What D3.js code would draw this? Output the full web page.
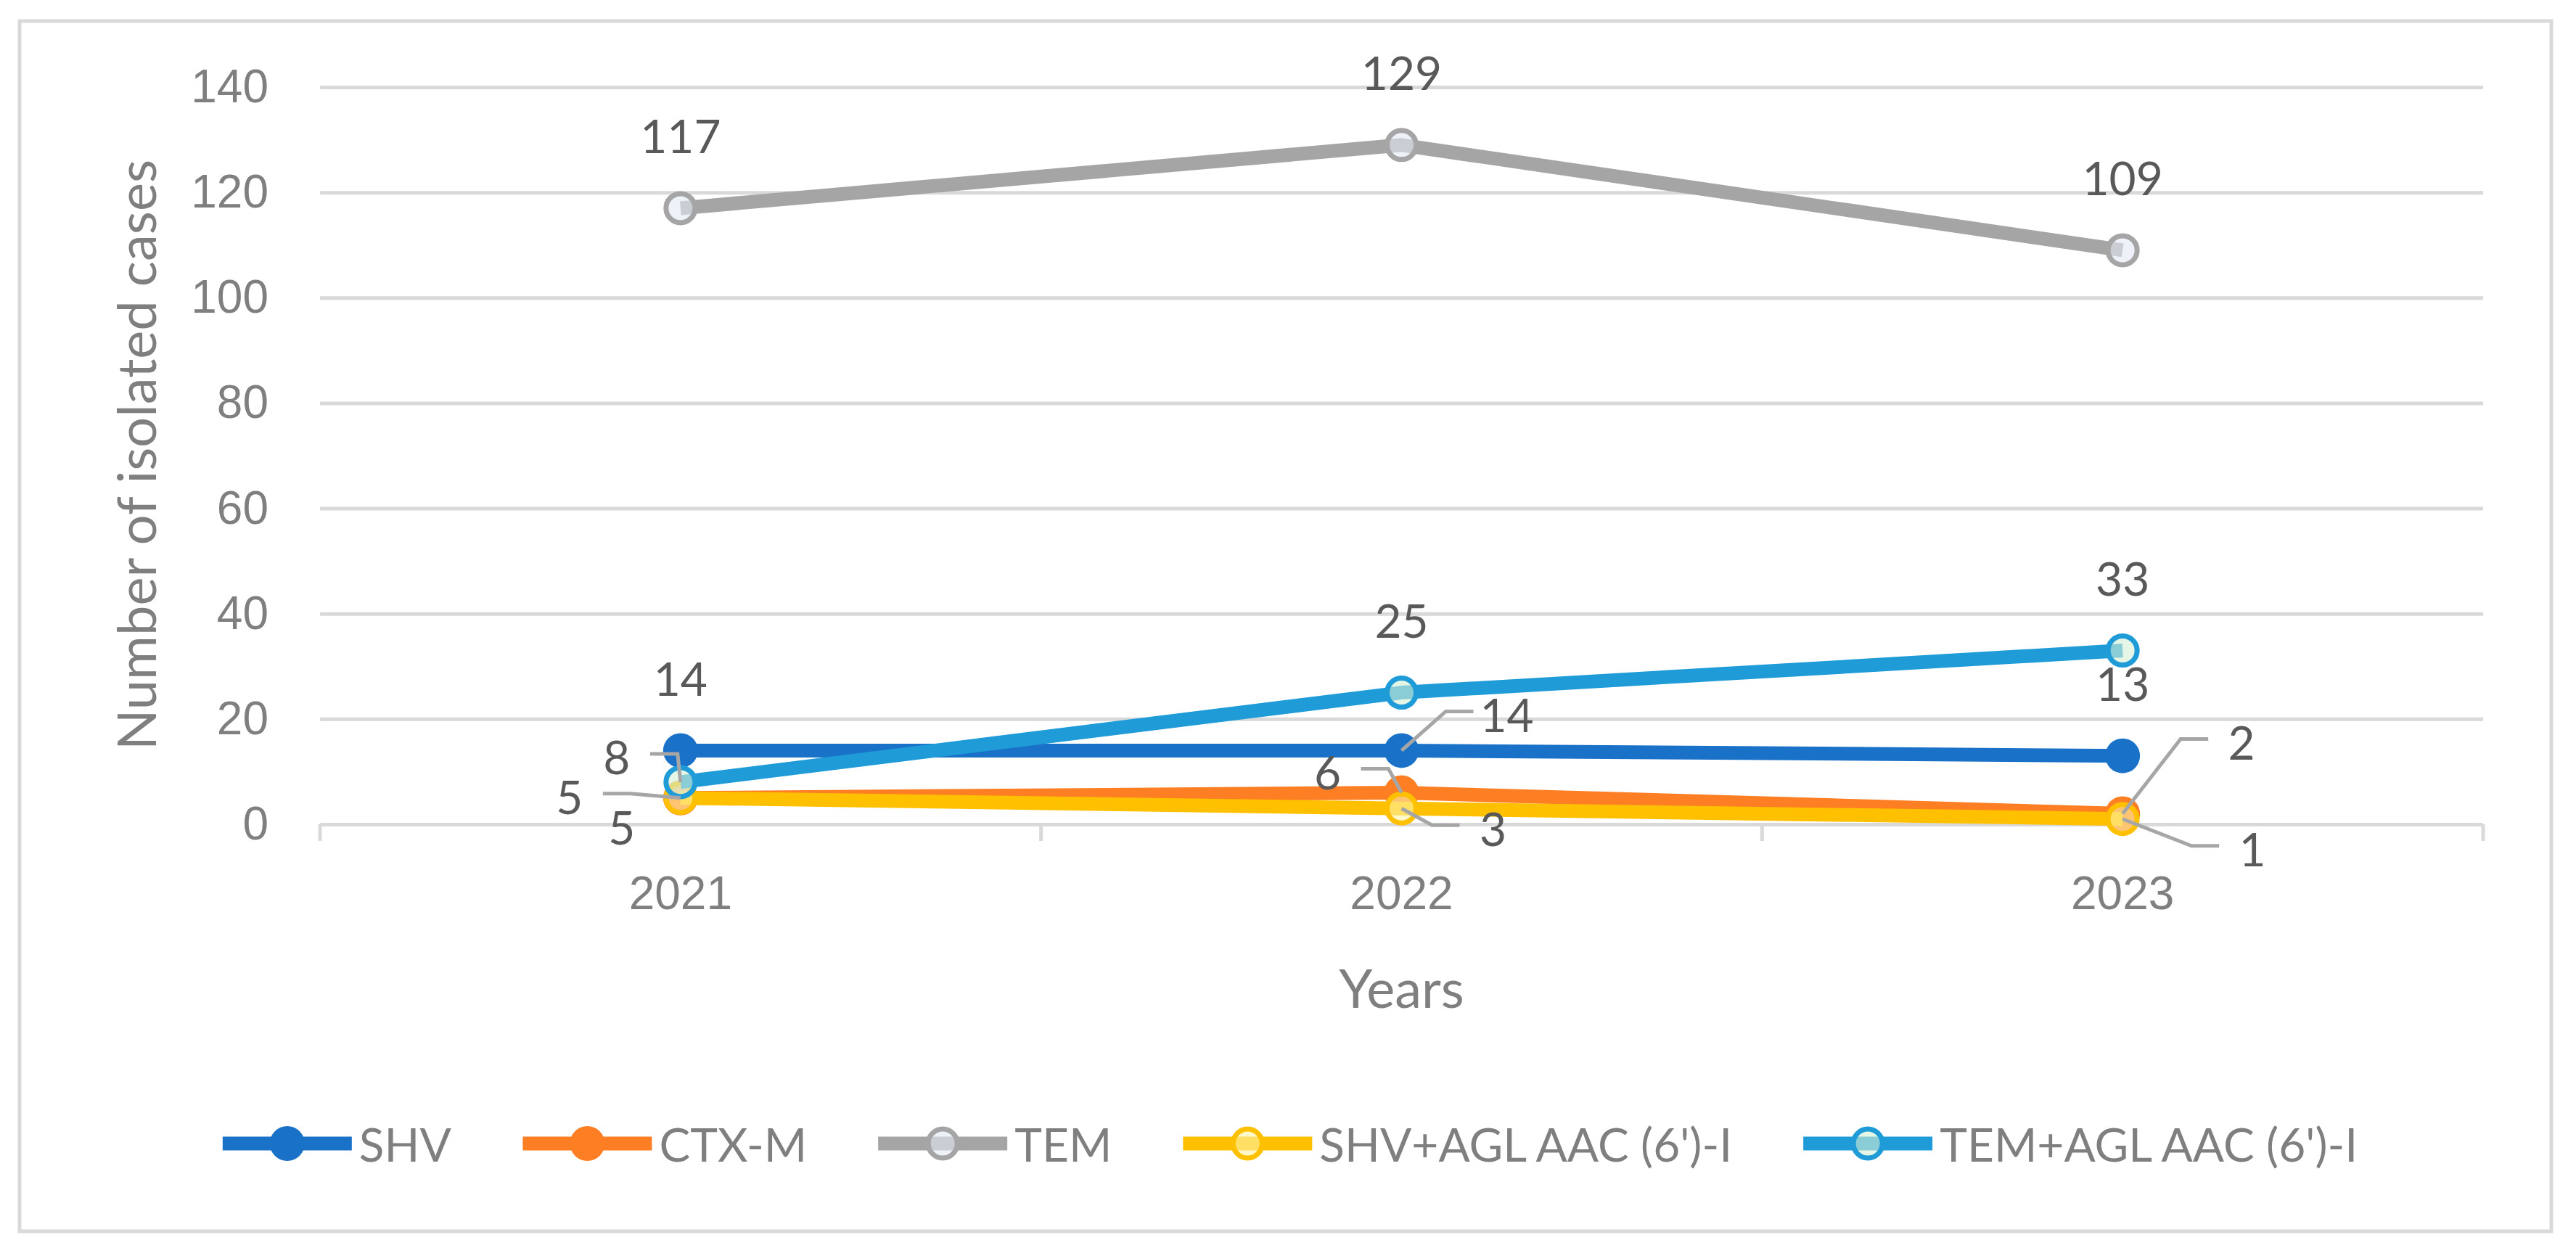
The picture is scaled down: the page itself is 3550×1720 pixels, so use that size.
<!DOCTYPE html>
<html>
<head>
<meta charset="utf-8">
<script src="https://cdn.jsdelivr.net/npm/d3@7"></script>
<style>
  body { margin: 0; background: #fff; }
  svg { display: block; font-family: Lato, "Open Sans", sans-serif; }
</style>
</head>
<body>
<svg id="chart" width="3550" height="1720"></svg>
<script>
// data
var years = ["2021", "2022", "2023"];
var seriesNames = ["SHV", "CTX-M", "TEM", "SHV+AGL AAC (6')-I", "TEM+AGL AAC (6')-I"];
var shv = [14, 14, 13];
var ctxm = [5, 6, 2];
var tem = [117, 129, 109];
var shvAgl = [5, 3, 1];
var temAgl = [8, 25, 33];
var yTicks = [0, 20, 40, 60, 80, 100, 120, 140];

var svg = d3.select("#chart"),
    margin = {top: 120, right: 128, bottom: 584, left: 441},
    width = +svg.attr("width") - margin.left - margin.right,
    height = +svg.attr("height") - margin.top - margin.bottom;

// outer frame
svg.append("rect")
    .attr("x", 27).attr("y", 29)
    .attr("width", 3489).attr("height", 1668)
    .attr("fill", "none")
    .attr("stroke", "#d9d9d9")
    .attr("stroke-width", 5);

var g = svg.append("g")
    .attr("transform", "translate(" + margin.left + "," + margin.top + ")");

var x = d3.scaleBand().domain(years).range([0, width]);
var y = d3.scaleLinear().domain([0, 140]).range([height, 0]);
function cx(i) { return x(years[i]) + x.bandwidth() / 2; }

// y axis + gridlines
var yAxis = g.append("g")
    .attr("class", "y axis")
    .call(d3.axisLeft(y).tickValues(yTicks).tickSize(-width).tickPadding(71));
yAxis.select(".domain").remove();
yAxis.selectAll(".tick line").attr("stroke", "#d9d9d9").attr("stroke-width", 5);
yAxis.selectAll(".tick text")
    .attr("fill", "#7f7f7f")
    .style("font-size", "64px");

// x tick marks at category edges
var edges = years.map(function(d) { return x(d); }).concat([width]);
g.selectAll(".xedge").data(edges).enter().append("line")
    .attr("class", "xedge")
    .attr("x1", function(d) { return d; })
    .attr("x2", function(d) { return d; })
    .attr("y1", height)
    .attr("y2", height + 23)
    .attr("stroke", "#d9d9d9")
    .attr("stroke-width", 5);

var xAxis = g.append("g")
    .attr("class", "x axis")
    .attr("transform", "translate(0," + height + ")")
    .call(d3.axisBottom(x).tickSize(0).tickPadding(72));
xAxis.select(".domain").remove();
xAxis.selectAll(".tick text")
    .attr("fill", "#7f7f7f")
    .style("font-size", "64px");

// axis titles
svg.append("text")
    .attr("transform", "translate(186,627) rotate(-90)")
    .attr("text-anchor", "middle")
    .attr("dominant-baseline", "central")
    .attr("fill", "#7f7f7f")
    .style("font-size", "74px")
    .text("Number of isolated cases");

svg.append("text")
    .attr("x", margin.left + width / 2)
    .attr("y", 1360)
    .attr("text-anchor", "middle")
    .attr("dominant-baseline", "central")
    .attr("fill", "#7f7f7f")
    .style("font-size", "74px")
    .text("Years");

// series styling
var series = [
    {name: seriesNames[0], values: shv, color: "#1a71c8", hollow: false},
    {name: seriesNames[1], values: ctxm, color: "#fd7e23", hollow: false},
    {name: seriesNames[2], values: tem, color: "#a5a5a5", hollow: true, fill: "#e3eaf4"},
    {name: seriesNames[3], values: shvAgl, color: "#ffc000", hollow: true, fill: "#fff3a6"},
    {name: seriesNames[4], values: temAgl, color: "#1f9cd8", hollow: true, fill: "#d3efd6"}
];

// data label placement: [dx, dy, leader]
var labelPos = [
    [[0, -100, false], [145, -50, true], [0, -100, false]],
    [[-153, -2, true], [-102, -29, true], [164, -99, true]],
    [[0, -100, false], [0, -100, false], [0, -100, false]],
    [[-81, 40, false], [126, 27, true], [179, 41, true]],
    [[-88, -35, true], [0, -100, false], [0, -100, false]]
];

var line = d3.line()
    .x(function(d, i) { return cx(i); })
    .y(function(d) { return y(d); });

function drawMarker(sel, s, px, py) {
    if (s.hollow) {
        sel.append("circle")
            .attr("cx", px).attr("cy", py).attr("r", 20)
            .attr("fill", s.fill).attr("fill-opacity", 0.6)
            .attr("stroke", s.color).attr("stroke-width", 7);
    } else {
        sel.append("circle")
            .attr("cx", px).attr("cy", py).attr("r", 24)
            .attr("fill", s.color);
    }
}

series.forEach(function(s) {
    var sg = g.append("g").attr("class", "series");
    sg.append("path")
        .datum(s.values)
        .attr("d", line)
        .attr("fill", "none")
        .attr("stroke", s.color)
        .attr("stroke-width", 19)
        .attr("stroke-linejoin", "round");
    s.values.forEach(function(v, i) {
        drawMarker(sg, s, cx(i), y(v));
    });
});

// data labels and leader lines
var lg = g.append("g").attr("class", "labels");
series.forEach(function(s, si) {
    s.values.forEach(function(v, i) {
        var p = labelPos[si][i],
            px = cx(i), py = y(v),
            lx = px + p[0], ly = py + p[1];
        if (p[2]) {
            var side = p[0] < 0 ? 1 : -1,
                sx = lx + side * 46,
                hx = sx + side * 38;
            lg.append("polyline")
                .attr("points", [[sx, ly - 4], [hx, ly - 4], [px, py]].join(" "))
                .attr("fill", "none")
                .attr("stroke", "#a6a6a6")
                .attr("stroke-width", 5);
        }
        lg.append("text")
            .attr("x", lx).attr("y", ly)
            .attr("text-anchor", "middle")
            .attr("dominant-baseline", "central")
            .attr("fill", "#595959")
            .style("font-size", "64px")
            .text(v);
    });
});

// legend
var legend = svg.append("g").attr("class", "legend");
var items = legend.selectAll(".item").data(series).enter().append("g").attr("class", "item");
items.append("line")
    .attr("x1", 0).attr("x2", 178)
    .attr("stroke", function(d) { return d.color; })
    .attr("stroke-width", 19);
items.each(function(d) { drawMarker(d3.select(this), d, 89, 0); });
items.append("text")
    .attr("x", 188)
    .attr("dominant-baseline", "central")
    .attr("fill", "#7f7f7f")
    .style("font-size", "64px")
    .text(function(d) { return d.name; });

var widths = [];
items.each(function() { widths.push(this.getBBox().width); });
var gap = 98;
var total = d3.sum(widths) + gap * (widths.length - 1);
var pos = 1778 - total / 2;
items.attr("transform", function(d, i) {
    var t = "translate(" + pos + ",1576)";
    pos += widths[i] + gap;
    return t;
});
</script>
</body>
</html>
